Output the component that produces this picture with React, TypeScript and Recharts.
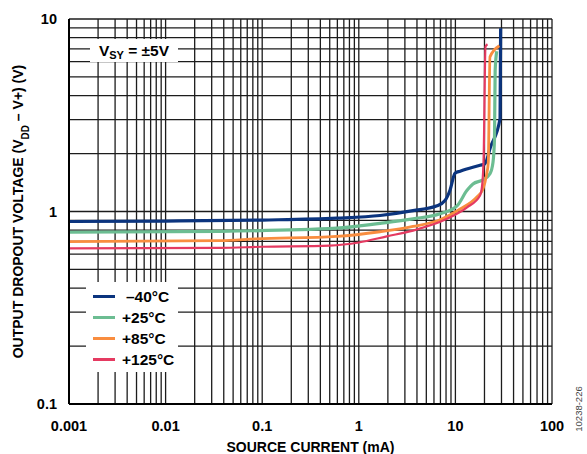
import React from 'react';
import { LineChart, Line, XAxis, YAxis, CartesianGrid, Legend } from 'recharts';

const FONT = '"Liberation Sans", Arial, Helvetica, sans-serif';

// Axis decades and labels
const xDecades = [0.001, 0.01, 0.1, 1, 10, 100];
const xTickLabels = ['0.001', '0.01', '0.1', '1', '10', '100'];
const yDecades = [0.1, 1, 10];
const yTickLabels = ['0.1', '1', '10'];
const minorSteps = [1, 2, 3, 4, 5, 6, 7, 8, 9];

// Series
const seriesNames = ['–40°C', '+25°C', '+85°C', '+125°C'];
const seriesColors = ['#0b347e', '#6cbd92', '#f98d3f', '#e53a61'];
const seriesWidths = [3.2, 3.2, 2.8, 2.2];

// Source current (mA) / output dropout voltage (V)
const currentM40 = [0.001, 0.01, 0.1, 0.59, 1.66, 3.64, 6.45, 7.8, 8.79, 9.91, 11.2, 18.0, 20.2, 23.0, 29.0, 29.4];
const voltageM40 = [0.887, 0.892, 0.903, 0.923, 0.953, 1.01, 1.07, 1.14, 1.29, 1.58, 1.62, 1.74, 1.77, 2.15, 3.04, 8.95];

const currentP25 = [0.001, 0.0366, 0.59, 1.66, 3.64, 6.93, 10.4, 13.2, 15.2, 19.3, 22.8, 24.5, 25.4, 25.8, 26.8];
const voltageP25 = [0.780, 0.789, 0.819, 0.868, 0.916, 0.973, 1.07, 1.29, 1.39, 1.46, 1.57, 1.8, 2.4, 5.4, 6.8];

const currentP85 = [0.001, 0.0366, 0.0877, 0.59, 1.66, 3.64, 6.93, 11.2, 16.7, 19.3, 21.0, 21.9, 22.8, 28.5];
const voltageP85 = [0.698, 0.706, 0.721, 0.743, 0.785, 0.836, 0.906, 1.03, 1.19, 1.31, 1.55, 1.8, 6.36, 7.26];

const currentP125 = [0.001, 0.0366, 0.1, 0.5, 1.0, 1.95, 3.64, 8.19, 13.2, 18.0, 19.0, 19.6, 20.5, 21.5];
const voltageP125 = [0.644, 0.647, 0.656, 0.665, 0.69, 0.743, 0.796, 0.916, 1.05, 1.21, 1.4, 1.9, 7.2, 7.4];

const toPoints = (xs: number[], ys: number[]) => xs.map((c, i) => ({ c, v: ys[i] }));
const seriesData = [
  toPoints(currentM40, voltageM40),
  toPoints(currentP25, voltageP25),
  toPoints(currentP85, voltageP85),
  toPoints(currentP125, voltageP125),
];

const buildGrid = (decades: number[]) => {
  const out: number[] = [];
  decades.forEach((d, i) => {
    if (i === decades.length - 1) {
      out.push(d);
    } else {
      minorSteps.forEach((k) => out.push(Number((k * d).toPrecision(6))));
    }
  });
  return out;
};
const xGrid = buildGrid(xDecades);
const yGrid = buildGrid(yDecades);

const matchIndex = (arr: number[], v: number) => arr.findIndex((d) => Math.abs(d - v) / d < 1e-6);

const XTick = (props: any) => {
  const { x, y, payload } = props;
  const i = matchIndex(xDecades, payload.value);
  if (i < 0) return <g />;
  return (
    <text x={x} y={y + 25} textAnchor="middle" fontFamily={FONT} fontWeight="bold" fontSize={14.5} fill="#000">
      {xTickLabels[i]}
    </text>
  );
};

const YTick = (props: any) => {
  const { x, y, payload } = props;
  const i = matchIndex(yDecades, payload.value);
  if (i < 0) return <g />;
  return (
    <text x={x - 10} y={y + 5} textAnchor="end" fontFamily={FONT} fontWeight="bold" fontSize={14.5} fill="#000">
      {yTickLabels[i]}
    </text>
  );
};

const YTitle = (props: any) => {
  const vb = props.viewBox || { y: 19, height: 385 };
  const cy = vb.y + vb.height / 2;
  const cx = 23;
  return (
    <text
      x={cx}
      y={cy}
      transform={`rotate(-90, ${cx}, ${cy})`}
      textAnchor="middle"
      fontFamily={FONT}
      fontWeight="bold"
      fontSize={14}
      fill="#000"
    >
      OUTPUT DROPOUT VOLTAGE (V
      <tspan baselineShift="sub" fontSize={10}>DD</tspan>
      <tspan> – V+) (V)</tspan>
    </text>
  );
};

const XTitle = (props: any) => {
  const vb = props.viewBox || { x: 69, width: 483 };
  const cx = vb.x + vb.width / 2;
  return (
    <g>
      <text x={cx} y={452} textAnchor="middle" fontFamily={FONT} fontWeight="bold" fontSize={14} fill="#000">
        SOURCE CURRENT (mA)
      </text>
      <text
        x={582}
        y={409}
        transform="rotate(-90, 582, 409)"
        textAnchor="middle"
        fontFamily={FONT}
        fontSize={9.5}
        fill="#444"
      >
        10238-226
      </text>
    </g>
  );
};

const LegendContent = () => (
  <div style={{ paddingTop: 4, fontFamily: FONT, fontWeight: 'bold', fontSize: 15.5, color: '#000' }}>
    {seriesNames.map((name, i) => (
      <div key={name} style={{ display: 'flex', alignItems: 'center', height: 21 }}>
        <div style={{ width: 22, height: seriesWidths[i] + 0.6, background: seriesColors[i], marginLeft: 7 }} />
        <span style={{ marginLeft: i === 0 ? 11 : 7, lineHeight: '21px' }}>{name}</span>
      </div>
    ))}
  </div>
);

export default function App() {
  return (
    <div style={{ position: 'absolute', left: 0, top: 0, width: 587, height: 454, background: '#fff' }}>
      <LineChart width={587} height={454} margin={{ top: 19, right: 35, bottom: 0, left: 0 }}>
        <CartesianGrid stroke="#1c1c1c" strokeWidth={1.3} />
        <XAxis
          dataKey="c"
          type="number"
          scale="log"
          domain={[0.001, 100]}
          ticks={xGrid}
          interval={0}
          allowDataOverflow
          height={50}
          tickSize={0}
          tickLine={false}
          tick={XTick}
          axisLine={{ stroke: '#000', strokeWidth: 2 }}
          label={{ content: XTitle }}
        />
        <XAxis
          xAxisId="top"
          orientation="top"
          type="number"
          scale="log"
          domain={[0.001, 100]}
          height={0}
          tick={false}
          tickLine={false}
          axisLine={{ stroke: '#000', strokeWidth: 2 }}
        />
        <YAxis
          type="number"
          scale="log"
          domain={[0.1, 10]}
          ticks={yGrid}
          interval={0}
          allowDataOverflow
          width={69}
          tickSize={0}
          tickLine={false}
          tick={YTick}
          axisLine={{ stroke: '#000', strokeWidth: 2 }}
          label={{ content: YTitle }}
        />
        <YAxis
          yAxisId="right"
          orientation="right"
          type="number"
          scale="log"
          domain={[0.1, 10]}
          width={0}
          tick={false}
          tickLine={false}
          axisLine={{ stroke: '#000', strokeWidth: 2 }}
        />
        {seriesData.map((d, i) => (
          <Line
            key={seriesNames[i]}
            data={d}
            dataKey="v"
            name={seriesNames[i]}
            type="monotone"
            stroke={seriesColors[i]}
            strokeWidth={seriesWidths[i]}
            dot={false}
            activeDot={false}
            isAnimationActive={false}
          />
        ))}
        <Legend
          layout="vertical"
          align="center"
          verticalAlign="middle"
          wrapperStyle={{ left: 86, top: 282, width: 92, height: 90, background: '#fff' }}
          content={LegendContent}
        />
      </LineChart>
      <div
        style={{
          position: 'absolute',
          left: 90,
          top: 39,
          width: 88,
          height: 23,
          background: '#fff',
          fontFamily: FONT,
          fontWeight: 'bold',
          fontSize: 15.5,
          color: '#000',
          textAlign: 'center',
          lineHeight: '23px',
          whiteSpace: 'nowrap',
        }}
      >
        V<sub style={{ fontSize: 11, verticalAlign: '-3px' }}>SY</sub> = ±5V
      </div>
    </div>
  );
}
